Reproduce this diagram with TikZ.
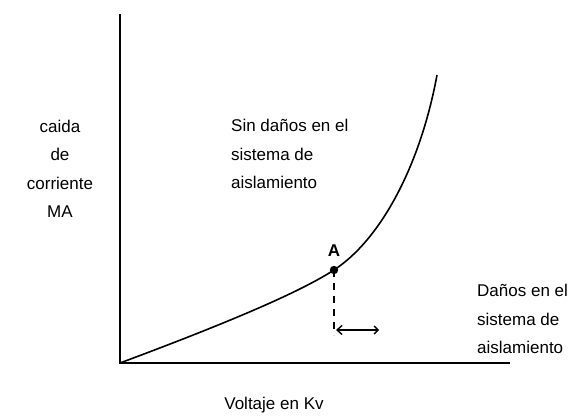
\documentclass[tikz,border=0pt]{standalone}
\usepackage{fontspec}
\setmainfont{Liberation Sans}
\usetikzlibrary{arrows.meta,positioning}

\tikzset{
    axis/.style={line width=2.2pt},
    curva/.style={line width=1.6pt},
    rotulo/.style={font=\fontsize{17}{28.5}\selectfont, inner sep=0pt}
}

\begin{document}
\begin{tikzpicture}[x=1pt,y=1pt]
    \useasboundingbox (0,0) rectangle (577,417);

    % Axes
    \coordinate (o) at (120,54);
    \coordinate (ytop) at (120,403);
    \coordinate (xend) at (510,54);
    \draw[axis] (ytop) -- (o) -- (xend);

    % Curve
    \coordinate (pA) at (334,147);
    \coordinate (tope) at (437,342);
    \draw[curva] (o) .. controls (230,95) and (300,125) .. (pA)
        .. controls (380,177) and (420,250) .. (tope);

    % Point A
    \fill (pA) circle (4.2pt);
    \node[rotulo, font=\fontsize{17}{20}\selectfont\bfseries] (A) at (334,166) {A};

    % Dashed line and arrow
    \coordinate (pie) at (334,82);
    \coordinate (ini) at (336,87);
    \coordinate (fin) at (379,87);
    \draw[line width=1.6pt, dash pattern=on 7pt off 6pt] (pA) -- (pie);
    \draw[line width=1.4pt, {Straight Barb[length=5pt,width=9pt]}-{Straight Barb[length=4pt,width=8pt]}] (ini) -- (fin);

    % Labels
    \node[rotulo, align=center] (ylab) at (60,248) {caida\\de\\corriente\\MA};
    \node[rotulo, align=left, anchor=west] (sin) at (231,263) {Sin daños en el\\sistema de\\aislamiento};
    \node[rotulo, align=left, anchor=west] (con) at (477,98) {Daños en el\\sistema de\\aislamiento};
    \node[rotulo] (xlab) at (274,12) {Voltaje en Kv};
\end{tikzpicture}
\end{document}
